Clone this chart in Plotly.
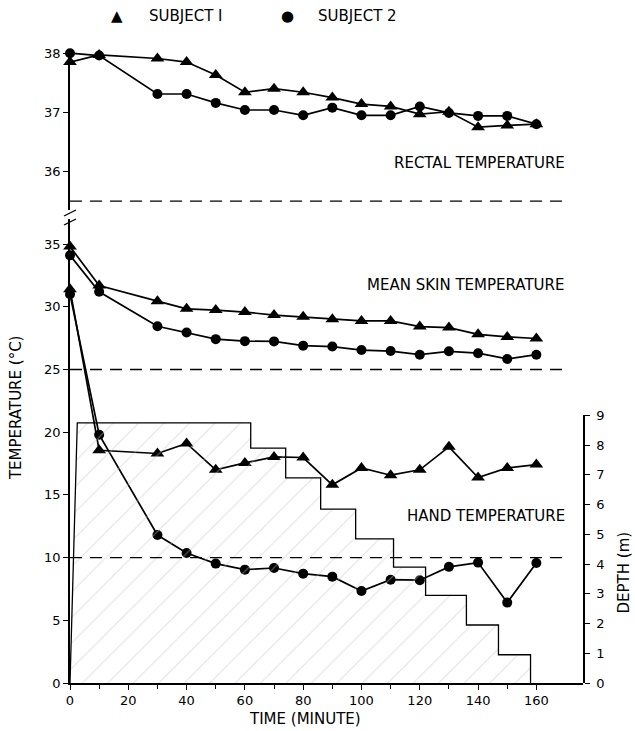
import plotly.graph_objects as go

# ---------------- data ----------------
times = [0, 10, 30, 40, 50, 60, 70, 80, 90, 100, 110, 120, 130, 140, 150, 160]

rectal_s1 = [37.85, 37.97, 37.91, 37.85, 37.63, 37.34, 37.40, 37.34, 37.25, 37.14, 37.10, 36.97, 37.01, 36.75, 36.78, 36.80]
rectal_s2 = [38.00, 37.96, 37.31, 37.31, 37.16, 37.04, 37.04, 36.95, 37.08, 36.95, 36.95, 37.10, 36.99, 36.94, 36.94, 36.80]

skin_s1 = [34.8, 31.7, 30.45, 29.84, 29.74, 29.58, 29.34, 29.20, 29.00, 28.87, 28.87, 28.42, 28.34, 27.80, 27.60, 27.47]
skin_s2 = [34.1, 31.2, 28.45, 27.95, 27.42, 27.26, 27.24, 26.90, 26.83, 26.55, 26.47, 26.18, 26.45, 26.30, 25.84, 26.18]

hand_s1 = [31.4, 18.56, 18.30, 19.10, 17.00, 17.55, 18.03, 17.98, 15.80, 17.15, 16.57, 17.00, 18.83, 16.38, 17.15, 17.42]
hand_s2 = [31.0, 19.80, 11.80, 10.37, 9.52, 9.04, 9.17, 8.72, 8.48, 7.34, 8.24, 8.20, 9.26, 9.60, 6.41, 9.57]

# dive profile: descent from surface, then depth levels between change times
descent_start = 0
level_change_times = [2.5, 62, 74, 86, 98, 111, 122, 136, 147, 158]
depth_levels = [8.75, 7.9, 6.9, 5.85, 4.85, 3.9, 2.95, 1.95, 0.95]

ref_levels_top = [35.5]
ref_levels_bottom = [25, 10]
ref_line_end = 170.5

x_ticks = [0, 20, 40, 60, 80, 100, 120, 140, 160]
x_minor_ticks = [10, 30, 50, 70, 90, 110, 130, 150]
top_ticks = [36, 37, 38]
bottom_ticks = [0, 5, 10, 15, 20, 25, 30, 35]
depth_ticks = [0, 1, 2, 3, 4, 5, 6, 7, 8, 9]

# ---------------- layout geometry ----------------
W, H = 635, 731
ML, MR, MT, MB = 70, 51.5, 52, 48
PW = W - ML - MR
PH = H - MT - MB


def py(pixel_y):
    return (H - MB - pixel_y) / PH


def px(pixel_x):
    return (pixel_x - ML) / PW


FONT = "DejaVu Sans"
TXT = 15

# build step polyline from profile data
step_x = [descent_start]
step_y = [0]
for i, d in enumerate(depth_levels):
    step_x += [level_change_times[i], level_change_times[i + 1]]
    step_y += [d, d]
step_x.append(level_change_times[-1])
step_y.append(0)

fig = go.Figure()

fig.add_trace(go.Scatter(
    x=step_x, y=step_y, xaxis="x", yaxis="y3", mode="lines",
    line=dict(color="black", width=1.3),
    fill="tozeroy", fillcolor="rgba(255,255,255,0)",
    fillpattern=dict(shape="/", fgcolor="#c4c4c4", bgcolor="rgba(255,255,255,0)", size=18, solidity=0.06),
    showlegend=False, hoverinfo="skip"))

mk_tri = dict(symbol="triangle-up", size=12, color="black")
mk_cir = dict(symbol="circle", size=10, color="black")
ln = dict(color="black", width=1.7)

for ys, ax in [(rectal_s1, "y"), (skin_s1, "y2"), (hand_s1, "y2")]:
    fig.add_trace(go.Scatter(x=times, y=ys, yaxis=ax, xaxis="x", mode="lines+markers",
                             marker=mk_tri, line=ln, showlegend=False, cliponaxis=False))
for ys, ax in [(rectal_s2, "y"), (skin_s2, "y2"), (hand_s2, "y2")]:
    fig.add_trace(go.Scatter(x=times, y=ys, yaxis=ax, xaxis="x", mode="lines+markers",
                             marker=mk_cir, line=ln, showlegend=False, cliponaxis=False))

shapes = []
for lv in ref_levels_top:
    shapes.append(dict(type="line", xref="x", yref="y", x0=0, x1=ref_line_end, y0=lv, y1=lv,
                       line=dict(color="black", width=1.3, dash="12px,8px")))
for lv in ref_levels_bottom:
    shapes.append(dict(type="line", xref="x", yref="y2", x0=0, x1=ref_line_end, y0=lv, y1=lv,
                       line=dict(color="black", width=1.3, dash="12px,8px")))
# axis break marks
for yb in (213, 222):
    shapes.append(dict(type="line", xref="paper", yref="paper",
                       x0=px(64), x1=px(76), y0=py(yb + 3), y1=py(yb - 3),
                       line=dict(color="black", width=1.3)))

axis_common = dict(showline=True, linecolor="black", linewidth=1.5, ticks="outside",
                   ticklen=5, tickwidth=1.3, tickcolor="black", showgrid=False, zeroline=False,
                   tickfont=dict(family=FONT, size=13, color="black"))


def ann(text, x, y, xanchor="center", angle=0, size=TXT):
    return dict(text=text, x=px(x), y=py(y), xref="paper", yref="paper", showarrow=False,
                xanchor=xanchor, yanchor="middle", textangle=angle,
                font=dict(family=FONT, size=size, color="black"))


annotations = [
    ann("RECTAL TEMPERATURE", 567, 163, "right"),
    ann("MEAN SKIN TEMPERATURE", 567, 285, "right"),
    ann("HAND TEMPERATURE", 567, 516, "right"),
    ann("TEMPERATURE (°C)", 16, 408, angle=-90),
    ann("DEPTH (m)", 625, 572, angle=-90),
    ann("TIME (MINUTE)", 305, 719),
    ann("▲", 117, 16),
    ann("SUBJECT I", 147, 16, "left"),
    ann("●", 288, 16),
    ann("SUBJECT 2", 316, 16, "left"),
]

fig.update_layout(
    width=W, height=H, margin=dict(l=ML, r=MR, t=MT, b=MB, autoexpand=False),
    paper_bgcolor="white", plot_bgcolor="rgba(0,0,0,0)",
    showlegend=False,
    xaxis=dict(domain=[0, 1], range=[0, 176], anchor="y2", tickvals=x_ticks,
               minor=dict(tickvals=x_minor_ticks, ticks="outside", ticklen=4, tickcolor="black"),
               **axis_common),
    yaxis=dict(domain=[py(210), 1], range=[35.35, 38.02], anchor="x", tickvals=top_ticks, **axis_common),
    yaxis2=dict(domain=[0, py(219)], range=[0, 37], anchor="x", tickvals=bottom_ticks, **axis_common),
    yaxis3=dict(domain=[0, py(415.4)], range=[0, 9], anchor="x", side="right",
                tickvals=depth_ticks, ticklabelstandoff=4, **axis_common),
    shapes=shapes, annotations=annotations,
)

fig.write_html("out.html", config={"displayModeBar": False},
               post_script="document.body.style.margin='0';document.body.style.overflow='hidden';")
